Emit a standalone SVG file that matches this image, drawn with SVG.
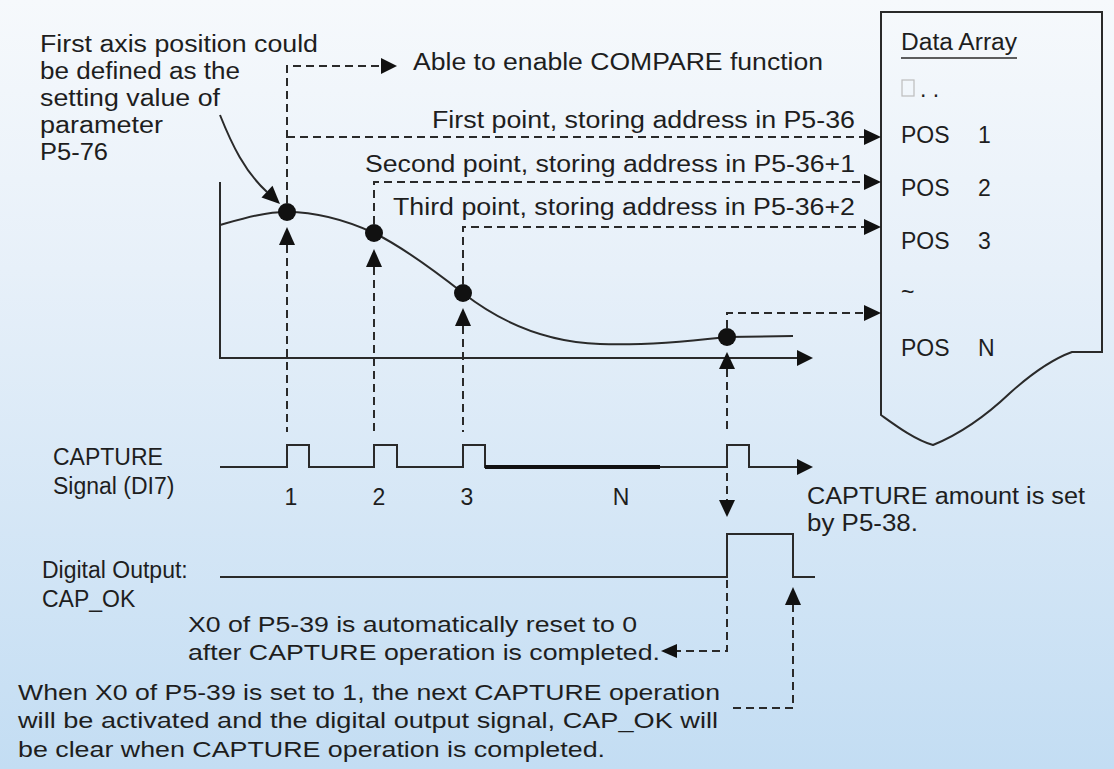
<svg xmlns="http://www.w3.org/2000/svg" width="1114" height="769" viewBox="0 0 1114 769">
<defs>
<linearGradient id="bg" x1="0" y1="0" x2="0" y2="1">
<stop offset="0" stop-color="#f6f9fc"/>
<stop offset="0.35" stop-color="#e7f0f9"/>
<stop offset="1" stop-color="#c3ddf3"/>
</linearGradient>
<style>
text{font-family:"Liberation Sans",Arial,sans-serif;fill:#1e1e1e;font-size:23px}
.sm{font-size:22px}
.ln{fill:none;stroke:#2a2a2a;stroke-width:2}
.dash{fill:none;stroke:#2a2a2a;stroke-width:2;stroke-dasharray:8 5}
.ah{fill:#111}
.dot{fill:#111}
</style>
</defs>
<rect width="1114" height="769" fill="url(#bg)"/>

<g id="note-first-axis">
<text x="40" y="52" textLength="278" lengthAdjust="spacingAndGlyphs">First axis position could</text>
<text x="40" y="79" textLength="200" lengthAdjust="spacingAndGlyphs">be defined as the</text>
<text x="40" y="106" textLength="180" lengthAdjust="spacingAndGlyphs">setting value of</text>
<text x="40" y="133" textLength="123" lengthAdjust="spacingAndGlyphs">parameter</text>
<text x="40" y="160" textLength="68" lengthAdjust="spacingAndGlyphs">P5-76</text>
</g>

<g id="labels-top">
<text x="413" y="70" textLength="410" lengthAdjust="spacingAndGlyphs">Able to enable COMPARE function</text>
<text x="432" y="128" textLength="423" lengthAdjust="spacingAndGlyphs">First point, storing address in P5-36</text>
<text x="365" y="172" textLength="490" lengthAdjust="spacingAndGlyphs">Second point, storing address in P5-36+1</text>
<text x="393" y="215" textLength="462" lengthAdjust="spacingAndGlyphs">Third point, storing address in P5-36+2</text>
</g>

<g id="data-array">
<path class="ln" d="M881,12 H1102 V352 H1072 C1050,360 1030,375 1010,393 C990,412 965,432 933,445 C915,440 895,425 881,415 Z"/>
<text x="901" y="50" textLength="116" lengthAdjust="spacingAndGlyphs">Data Array</text>
<line x1="901" y1="58" x2="1017" y2="58" stroke="#2a2a2a" stroke-width="1.5"/>
<rect x="902" y="80" width="12" height="16" fill="none" stroke="#bdbdbd" stroke-width="1.2"/>
<text x="920" y="97">. .</text>
<text x="901" y="143">POS</text><text x="978" y="143">1</text>
<text x="901" y="196">POS</text><text x="978" y="196">2</text>
<text x="901" y="249">POS</text><text x="978" y="249">3</text>
<text x="901" y="300">~</text>
<text x="901" y="356">POS</text><text x="978" y="356">N</text>
</g>

<g id="position-graph">
<path class="ln" d="M220,182 V358 H797"/>
<polygon class="ah" points="797,350 813,358 797,366"/>
<path class="ln" d="M220,225 C245,218 265,212 287,212 C320,212 350,222 374,233 C405,248 440,275 463,293 C500,322 545,342 600,344 C650,346 700,340 727,337 L793,336"/>
<circle class="dot" cx="287" cy="212" r="9"/>
<circle class="dot" cx="374" cy="233" r="9"/>
<circle class="dot" cx="463" cy="293" r="9"/>
<circle class="dot" cx="727" cy="337" r="9"/>
</g>

<g id="capture-signal">
<text x="53" y="465">CAPTURE</text>
<text x="53" y="494">Signal (DI7)</text>
<path class="ln" d="M220,467 H287 V445 H309 V467 H374 V445 H397 V467 H463 V445 H485 V467 H727 V445 H749 V467 H797"/>
<line x1="485" y1="467" x2="660" y2="467" stroke="#111" stroke-width="4"/>
<polygon class="ah" points="797,459 813,467 797,475"/>
<text x="291" y="505" text-anchor="middle">1</text>
<text x="379" y="505" text-anchor="middle">2</text>
<text x="467" y="505" text-anchor="middle">3</text>
<text x="621" y="505" text-anchor="middle">N</text>
<text x="807" y="504" textLength="278" lengthAdjust="spacingAndGlyphs">CAPTURE amount is set</text>
<text x="807" y="531" textLength="111" lengthAdjust="spacingAndGlyphs">by P5-38.</text>
</g>

<g id="cap-ok">
<text x="42" y="578">Digital Output:</text>
<text x="42" y="607">CAP_OK</text>
<path class="ln" d="M220,577 H727 V534 H793 V577 H815"/>
</g>

<g id="notes-bottom">
<text class="sm" x="188" y="632" textLength="449" lengthAdjust="spacingAndGlyphs">X0 of P5-39 is automatically reset to 0</text>
<text class="sm" x="188" y="660" textLength="472" lengthAdjust="spacingAndGlyphs">after CAPTURE operation is completed.</text>
<text class="sm" x="18" y="700" textLength="702" lengthAdjust="spacingAndGlyphs">When X0 of P5-39 is set to 1, the next CAPTURE operation</text>
<text class="sm" x="18" y="728" textLength="700" lengthAdjust="spacingAndGlyphs">will be activated and the digital output signal, CAP_OK will</text>
<text class="sm" x="18" y="757" textLength="587" lengthAdjust="spacingAndGlyphs">be clear when CAPTURE operation is completed.</text>
</g>

<g id="connectors">
<path class="ln" d="M220,115 C232,145 245,172 267,192"/>
<polygon class="ah" points="280,204 261.5,197.4 272.5,185.8"/>
<path class="dash" d="M287,203 V66 H381"/>
<polygon class="ah" points="381,58 397,66 381,74"/>
<path class="dash" d="M287,137 H864"/>
<polygon class="ah" points="864,129 881,137 864,145"/>
<path class="dash" d="M374,224 V182 H864"/>
<polygon class="ah" points="864,174 881,182 864,190"/>
<path class="dash" d="M463,284 V227 H864"/>
<polygon class="ah" points="864,219 881,227 864,235"/>
<path class="dash" d="M727,328 V313 H864"/>
<polygon class="ah" points="864,305 881,313 864,321"/>
<polygon class="ah" points="287,227 279,245 295,245"/>
<polygon class="ah" points="374,249 366,267 382,267"/>
<polygon class="ah" points="463,308 455,326 471,326"/>
<polygon class="ah" points="727,352 719,369 735,369"/>
<path class="dash" d="M287,245 V432"/>
<path class="dash" d="M374,267 V432"/>
<path class="dash" d="M463,326 V432"/>
<path class="dash" d="M727,369 V432"/>
<path class="dash" d="M727,473 V500"/>
<polygon class="ah" points="719,500 735,500 727,517"/>
<path class="dash" d="M727,580 V651 H677"/>
<polygon class="ah" points="677,644 677,658 661,651"/>
<path class="dash" d="M733,708 H793 V605"/>
<polygon class="ah" points="793,587 785,605 801,605"/>
</g>
</svg>
